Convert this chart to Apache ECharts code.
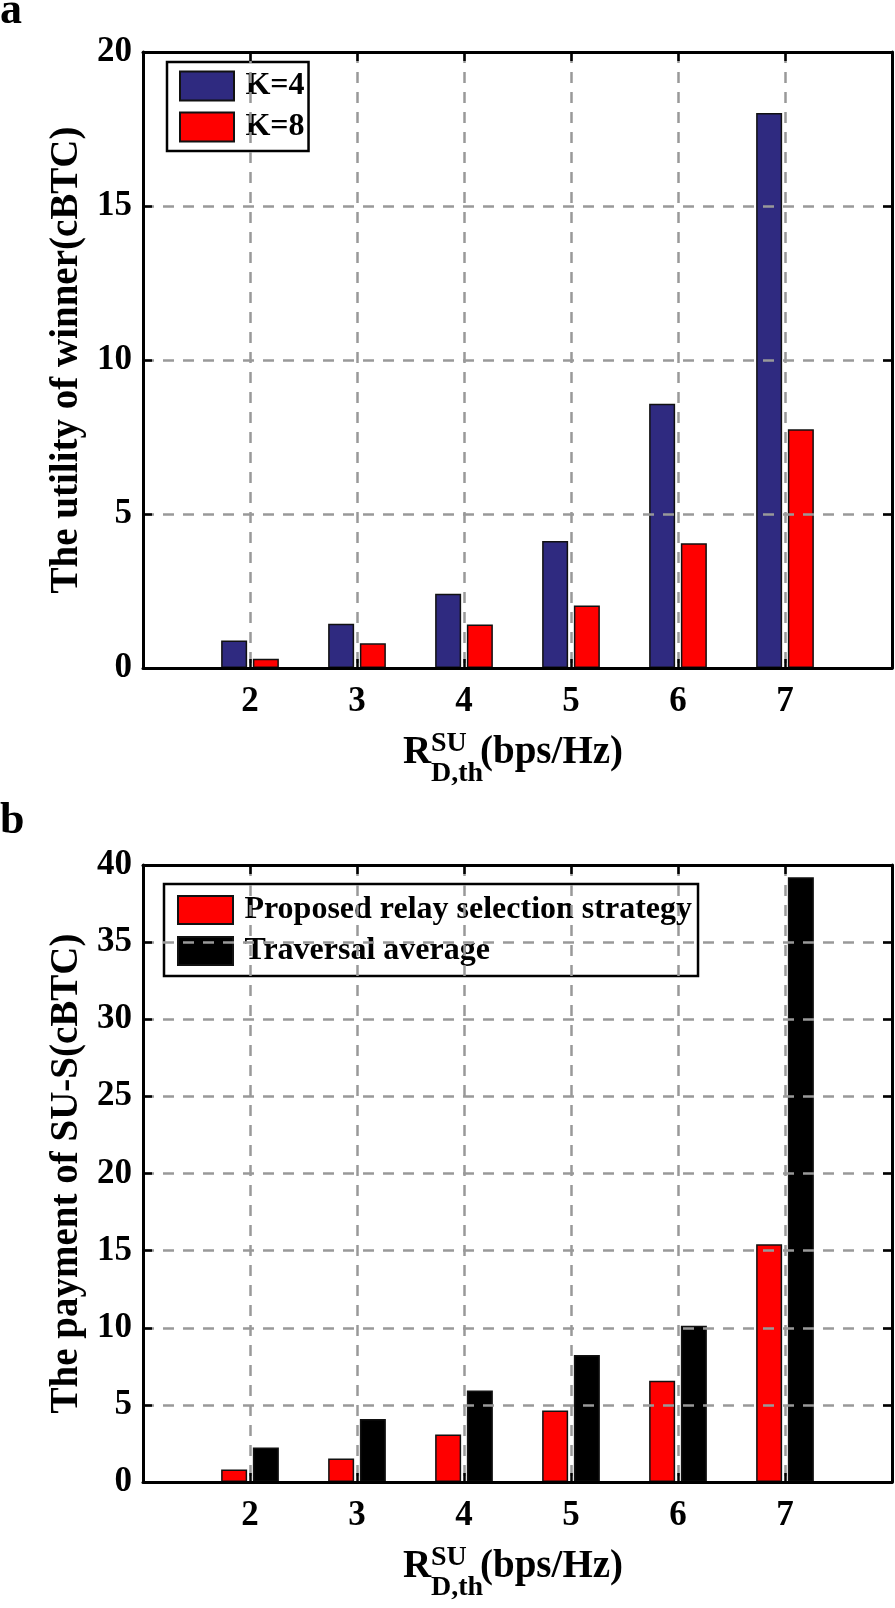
<!DOCTYPE html>
<html>
<head>
<meta charset="utf-8">
<title>Utility of winner and payment of SU-S</title>
<script src="https://cdn.jsdelivr.net/npm/echarts@6/dist/echarts.min.js"></script>
<style>
  html, body { margin: 0; padding: 0; background: #fff; }
  #chart { width: 895px; height: 1608px; }
</style>
</head>
<body>
<div id="chart"></div>
<script>
// rate threshold R_D,th^SU (bps/Hz)
var rates = [2, 3, 4, 5, 6, 7];
// panel a - utility of winner (cBTC)
var utilityK4 = [0.89, 1.44, 2.41, 4.12, 8.58, 18.02];
var utilityK8 = [0.30, 0.80, 1.41, 2.03, 4.05, 7.75];
// panel b - payment of SU-S (cBTC)
var paymentProposed = [0.81, 1.53, 3.08, 4.64, 6.57, 15.41];
var paymentTraversal = [2.23, 4.08, 5.94, 8.24, 10.13, 39.2];
// y tick labels
var yTicksA = [0, 5, 10, 15, 20];
var yTicksB = [0, 5, 10, 15, 20, 25, 30, 35, 40];

var FONT = "'Liberation Serif', 'Times New Roman', serif";
var GRID_LINE = { color: '#999', width: 2.5, type: [11, 9] };
var BOX_LINE = { show: true, onZero: false, lineStyle: { color: '#000', width: 3 } };
var TICK = { show: true, inside: true, length: 9, lineStyle: { color: '#000', width: 2.5 } };

function pairs(vals) {
  return rates.map(function (r, i) { return [r, vals[i]]; });
}

// bottom axis with labels + top axis with ticks only (matlab box)
function xAxes(g) {
  var base = {
    gridIndex: g, type: 'value',
    min: rates[0] - 1, max: rates[rates.length - 1] + 1, interval: 1,
    axisLine: BOX_LINE, axisTick: TICK, splitLine: { show: false }, z: 5
  };
  return [
    Object.assign({}, base, {
      position: 'bottom',
      splitLine: { show: true, showMinLine: false, showMaxLine: false, lineStyle: GRID_LINE },
      axisLabel: {
        margin: 16, fontFamily: FONT, fontWeight: 'bold', fontSize: 35, color: '#000',
        formatter: function (v) { return rates.indexOf(v) >= 0 ? String(v) : ''; }
      }
    }),
    Object.assign({}, base, { position: 'top', axisLabel: { show: false } })
  ];
}

function yAxes(g, ticks, title) {
  var base = {
    gridIndex: g, type: 'value',
    min: ticks[0], max: ticks[ticks.length - 1], interval: ticks[1] - ticks[0],
    axisLine: BOX_LINE, axisTick: TICK, splitLine: { show: false }, z: 5
  };
  return [
    Object.assign({}, base, {
      position: 'left',
      name: title, nameLocation: 'middle', nameGap: 47, nameRotate: 90,
      nameTextStyle: { fontFamily: FONT, fontWeight: 'bold', fontSize: 39, color: '#000' },
      splitLine: { show: true, showMinLine: false, showMaxLine: false, lineStyle: GRID_LINE },
      axisLabel: { margin: 11, fontFamily: FONT, fontWeight: 'bold', fontSize: 35, color: '#000' }
    }),
    Object.assign({}, base, { position: 'right', axisLabel: { show: false } })
  ];
}

function bar(name, vals, color, axis) {
  return {
    name: name, type: 'bar', xAxisIndex: axis, yAxisIndex: axis,
    data: pairs(vals), barWidth: 26, barGap: '22%',
    itemStyle: { color: color, borderColor: '#111', borderWidth: 1.5 }
  };
}

// x title R^SU_D,th(bps/Hz), drawn as text pieces
function xTitle(base) {
  var t = function (x, y, s, size) {
    return { type: 'text', x: x, y: y,
      style: { text: s, font: 'bold ' + size + 'px ' + FONT, fill: '#000', verticalAlign: 'middle' } };
  };
  return [
    t(403, base - 17, 'R', 39),
    t(431, base - 26, 'SU', 28),
    t(431, base + 4, 'D,th', 28),
    t(480, base - 17, '(bps/Hz)', 39)
  ];
}

var legendStyle = {
  orient: 'vertical', icon: 'rect', itemGap: 9,
  borderColor: '#000', borderWidth: 2.5, backgroundColor: '#fff', borderRadius: 0,
  // small leading space so the label clears the swatch like in matlab
  formatter: function (name) { return '\u2009' + name; },
  textStyle: { fontFamily: FONT, fontWeight: 'bold', fontSize: 32, color: '#000', lineHeight: 29 }
};

var chart = echarts.init(document.getElementById('chart'));
chart.setOption({
  animation: false,
  backgroundColor: '#fff',
  grid: [
    { left: 143, right: 3, top: 52, height: 616 },
    { left: 143, right: 3, top: 865, height: 617 }
  ],
  xAxis: xAxes(0).concat(xAxes(1)),
  yAxis: yAxes(0, yTicksA, 'The utility of winner(cBTC)')
    .concat(yAxes(1, yTicksB, 'The payment of SU-S(cBTC)')),
  legend: [
    Object.assign({}, legendStyle, {
      data: ['K=4', 'K=8'], left: 167, top: 62,
      padding: [8, 4, 8, 12], itemWidth: 54, itemHeight: 29
    }),
    Object.assign({}, legendStyle, {
      data: ['Proposed relay selection strategy', 'Traversal average'], left: 164, top: 884,
      padding: [10, 6, 9, 13], itemWidth: 55, itemHeight: 28
    })
  ],
  series: [
    bar('K=4', utilityK4, '#2f2a80', 0),
    bar('K=8', utilityK8, '#ff0000', 0),
    bar('Proposed relay selection strategy', paymentProposed, '#ff0000', 2),
    bar('Traversal average', paymentTraversal, '#000000', 2)
  ],
  graphic: [
    { type: 'text', x: 0, y: 12, style: { text: 'a', font: 'bold 44px ' + FONT, fill: '#000', verticalAlign: 'middle' } },
    { type: 'text', x: 0, y: 822, style: { text: 'b', font: 'bold 44px ' + FONT, fill: '#000', verticalAlign: 'middle' } }
  ].concat(xTitle(770)).concat(xTitle(1584))
});
</script>
</body>
</html>
